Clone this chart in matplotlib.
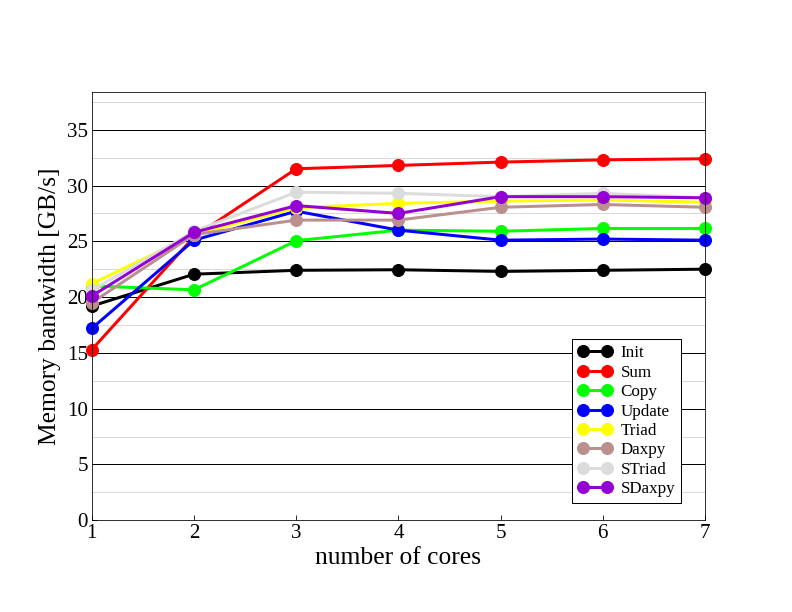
import numpy as np
import matplotlib
matplotlib.use('Agg')
import matplotlib.pyplot as plt
from matplotlib.ticker import MultipleLocator

plt.rcParams['font.family'] = ['Liberation Serif', 'DejaVu Serif']

cores = [1, 2, 3, 4, 5, 6, 7]
init = [19.2, 22.05, 22.4, 22.45, 22.3, 22.4, 22.5]
sum_ = [15.3, 25.4, 31.5, 31.8, 32.1, 32.3, 32.4]
copy = [21.0, 20.65, 25.05, 26.0, 25.9, 26.15, 26.15]
update = [17.2, 25.1, 27.7, 26.0, 25.1, 25.2, 25.1]
triad = [21.2, 25.6, 28.0, 28.4, 28.6, 28.7, 28.5]
daxpy = [19.5, 25.6, 26.9, 26.9, 28.05, 28.3, 28.05]
striad = [20.6, 25.9, 29.4, 29.3, 29.0, 29.3, 28.9]
sdaxpy = [20.1, 25.8, 28.2, 27.5, 29.0, 29.0, 28.9]

names = ['Init', 'Sum', 'Copy', 'Update', 'Triad', 'Daxpy', 'STriad', 'SDaxpy']
series = [init, sum_, copy, update, triad, daxpy, striad, sdaxpy]
colors = ['#000000', '#ff0000', '#00ff00', '#0000ff', '#ffff00', '#bc8f8f', '#dcdcdc', '#9400d3']

fig = plt.figure(figsize=(11, 8.5), dpi=72)
ax = fig.add_axes([0.116, 0.15, 0.774, 0.70])

for name, vals, c in zip(names, series, colors):
    ax.plot(cores, vals, '-o', color=c, lw=3, ms=12, label=name, clip_on=False)

ax.set_xlim(1, 7)
ax.set_ylim(0, 38.4)
ax.yaxis.set_major_locator(MultipleLocator(5))
ax.yaxis.set_minor_locator(MultipleLocator(2.5))
ax.grid(axis='y', which='major', color='black', lw=1)
ax.grid(axis='y', which='minor', color='#d9d9d9', lw=1)
ax.set_axisbelow(True)
ax.tick_params(direction='in', labelsize=21, length=5, pad=4, top=False, right=False)
ax.tick_params(which='minor', length=0)
ax.set_xlabel('number of cores', fontsize=25.5, labelpad=4)
ax.set_ylabel('Memory bandwidth [GB/s]', fontsize=25.5, labelpad=6)

leg = ax.legend(loc='lower right', bbox_to_anchor=(0.961, 0.04), fontsize=17,
                fancybox=False, framealpha=1, edgecolor='black', numpoints=2,
                handlelength=2.0, handletextpad=0.5, labelspacing=0.2, borderpad=0.35,
                borderaxespad=0)
leg.get_frame().set_linewidth(1)

fig.savefig('out.png')
